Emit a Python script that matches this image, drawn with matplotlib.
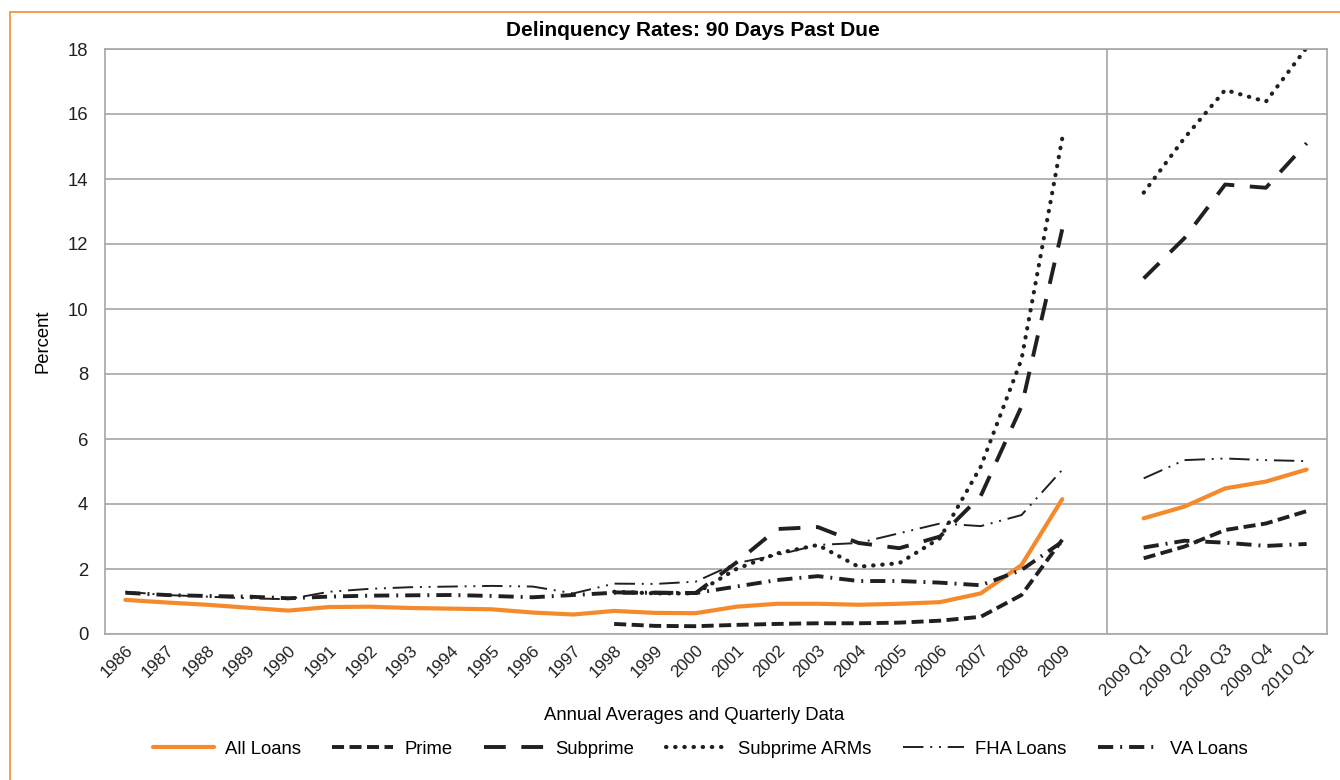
import numpy as np
import matplotlib
matplotlib.use("Agg")
import matplotlib.pyplot as plt
from matplotlib.patches import Rectangle

plt.rcParams['font.family'] = ['Liberation Sans', 'DejaVu Sans']

nan = np.nan

# categories: annual averages, a blank slot, then quarterly data
years = [str(y) for y in range(1986, 2010)]
quarters = ['2009 Q1', '2009 Q2', '2009 Q3', '2009 Q4', '2010 Q1']
labels = years + [''] + quarters

all_annual = [1.05, 0.97, 0.90, 0.81, 0.72, 0.83, 0.84, 0.80, 0.78, 0.76, 0.66, 0.60,
              0.71, 0.65, 0.64, 0.84, 0.93, 0.93, 0.90, 0.93, 0.98, 1.25, 2.12, 4.15]
all_q = [3.56, 3.92, 4.48, 4.69, 5.06]

prime_annual = [nan] * 12 + [0.31, 0.25, 0.24, 0.28, 0.31, 0.33, 0.33, 0.35, 0.41, 0.53, 1.20, 2.90]
prime_q = [2.33, 2.69, 3.20, 3.40, 3.78]

subprime_annual = [nan] * 12 + [1.28, 1.27, 1.26, 2.20, 3.23, 3.29, 2.80, 2.64, 3.00, 4.25, 7.00, 12.45]
subprime_q = [10.94, 12.18, 13.83, 13.73, 15.10]

arms_annual = [nan] * 12 + [1.30, 1.25, 1.25, 2.00, 2.48, 2.74, 2.07, 2.18, 2.95, 5.15, 8.45, 15.25]
arms_q = [13.58, 15.26, 16.74, 16.38, 18.04]

fha_annual = [1.30, 1.20, 1.15, 1.10, 1.07, 1.30, 1.39, 1.44, 1.46, 1.48, 1.46, 1.25,
              1.55, 1.54, 1.61, 2.18, 2.43, 2.74, 2.80, 3.10, 3.40, 3.32, 3.66, 5.05]
fha_q = [4.79, 5.35, 5.40, 5.35, 5.32]

va_annual = [1.27, 1.20, 1.17, 1.15, 1.10, 1.15, 1.18, 1.19, 1.20, 1.17, 1.13, 1.20,
             1.27, 1.27, 1.26, 1.46, 1.66, 1.78, 1.63, 1.63, 1.58, 1.50, 1.97, 2.84]
va_q = [2.66, 2.87, 2.81, 2.71, 2.77]

x_annual = np.arange(len(years))
x_q = np.arange(len(years) + 1, len(labels))

orange = '#f58a2c'
black = '#231f20'
fs = 13.3

fig = plt.figure(figsize=(13.4, 7.8), dpi=100)
ax = fig.add_axes([105 / 1340, 1 - 634 / 780, 1222 / 1340, 585 / 780])

series = [
    ('All Loans', all_annual, all_q, dict(color=orange, lw=3.0, solid_capstyle='round')),
    ('Prime', prime_annual, prime_q, dict(color=black, lw=2.8, dashes=(3.1, 1.4))),
    ('Subprime', subprime_annual, subprime_q, dict(color=black, lw=2.8, dashes=(5.6, 4.0))),
    ('Subprime ARMs', arms_annual, arms_q, dict(color=black, lw=3.0, dashes=(0.1, 2.1),
                                                dash_capstyle='round')),
    ('FHA Loans', fha_annual, fha_q, dict(color=black, lw=1.4, dashes=(10.5, 3.5, 1, 3.5, 1, 3.5))),
    ('VA Loans', va_annual, va_q, dict(color=black, lw=2.8, dashes=(3.9, 1.8, 0.5, 1.8))),
]

handles = []
for name, ann, qtr, style in series:
    h, = ax.plot(x_annual, ann, label=name, **style)
    ax.plot(x_q, qtr, **style)
    handles.append(h)

# separator between annual and quarterly parts
ax.axvline(24.1, color='#a6a6a6', lw=1.2)

ax.set_xlim(-0.5, len(labels) - 0.5)
ax.set_ylim(0, 18)
ax.set_yticks(range(0, 19, 2))
ax.set_xticks(range(len(labels)))
ax.set_xticklabels(labels, rotation=45, ha='right', rotation_mode='anchor')
ax.tick_params(length=0, labelsize=12.3, colors='#231f20', pad=6)
ax.tick_params(axis='y', labelsize=fs, pad=12)
ax.yaxis.grid(True, color='#a6a6a6', lw=1.2)
ax.set_axisbelow(True)
for s in ax.spines.values():
    s.set_color('#a6a6a6')
    s.set_linewidth(1.2)

fig.text(693 / 1340, 1 - 31 / 780, 'Delinquency Rates: 90 Days Past Due', fontsize=15,
         fontweight='bold', ha='center', va='center')
ax.set_ylabel('Percent', fontsize=fs, labelpad=12)
fig.text(694 / 1340, 1 - 716 / 780, 'Annual Averages and Quarterly Data', fontsize=fs,
         ha='center', va='center')

fig.legend(handles=handles, loc='center', bbox_to_anchor=(700 / 1340, 1 - 749 / 780), ncol=6,
           frameon=False, fontsize=fs, handlelength=3.3, columnspacing=1.7, handletextpad=0.6)

# orange frame around the figure (only top and left edges are visible)
fig.add_artist(Rectangle((10 / 1340, -0.1), 1.2, 1 - 12 / 780 + 0.1, transform=fig.transFigure,
                         fill=False, edgecolor=orange, lw=1.2))

fig.savefig('out.png', dpi=100)
